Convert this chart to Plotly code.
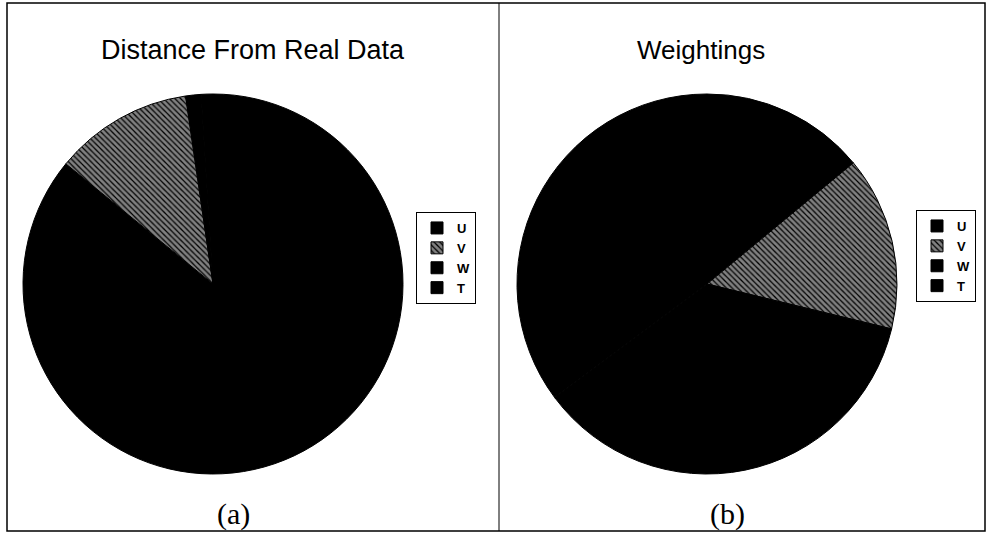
import plotly.graph_objects as go

labels = ["U", "V", "W", "T"]
dist_values = [85.9, 11.8, 1.3, 1.0]
weight_values = [14.0, 14.8, 36.0, 35.2]
titles = ["Distance From Real Data", "Weightings"]
captions = ["(a)", "(b)"]

W, H = 986, 535

def dom(cx, cy, r):
    return dict(x=[(cx - r) / W, (cx + r) / W], y=[1 - (cy + r) / H, 1 - (cy - r) / H])

marker = dict(
    colors=["black", "black", "black", "black"],
    line=dict(color="black", width=1),
    pattern=dict(shape=["", "\\", "", ""], fgcolor="white", bgcolor="black",
                 size=4, solidity=0.7, fillmode="overlay"),
)

fig = go.Figure()
fig.add_trace(go.Pie(labels=labels, values=dist_values, sort=False, direction="clockwise",
                     rotation=0, textinfo="none", hoverinfo="label+percent",
                     marker=marker, domain=dom(213, 284, 190),
                     legend="legend", legendgroup="a"))
fig.add_trace(go.Pie(labels=labels, values=weight_values, sort=False, direction="clockwise",
                     rotation=0, textinfo="none", hoverinfo="label+percent",
                     marker=marker, domain=dom(707, 284, 190),
                     legend="legend2", legendgroup="b"))

legend_style = dict(bgcolor="white", bordercolor="black", borderwidth=1,
                    font=dict(family="Liberation Sans, Arial", size=13, color="black", weight="bold"),
                    xanchor="right", yanchor="top", itemwidth=30, tracegroupgap=0)

fig.update_layout(
    width=W, height=H,
    margin=dict(l=0, r=0, t=0, b=0),
    paper_bgcolor="white", plot_bgcolor="white",
    legend=dict(x=476 / W, y=1 - 212 / H, **legend_style),
    legend2=dict(x=976 / W, y=1 - 210 / H, **legend_style),
    shapes=[
        dict(type="rect", xref="paper", yref="paper", x0=7 / W, x1=985 / W,
             y0=1 - 531 / H, y1=1 - 3 / H, line=dict(color="black", width=1.5)),
        dict(type="line", xref="paper", yref="paper", x0=499 / W, x1=499 / W,
             y0=1 - 531 / H, y1=1 - 3 / H, line=dict(color="black", width=1)),
    ],
    annotations=[
        dict(text=titles[0], x=253 / W, y=1 - 50 / H, xref="paper", yref="paper",
             xanchor="center", yanchor="middle", showarrow=False,
             font=dict(family="Liberation Sans, Arial", size=27, color="black")),
        dict(text=titles[1], x=701 / W, y=1 - 50 / H, xref="paper", yref="paper",
             xanchor="center", yanchor="middle", showarrow=False,
             font=dict(family="Liberation Sans, Arial", size=26, color="black")),
        dict(text=captions[0], x=233 / W, y=1 - 514 / H, xref="paper", yref="paper",
             xanchor="center", yanchor="middle", showarrow=False,
             font=dict(family="Liberation Serif, serif", size=30, color="black")),
        dict(text=captions[1], x=727 / W, y=1 - 514 / H, xref="paper", yref="paper",
             xanchor="center", yanchor="middle", showarrow=False,
             font=dict(family="Liberation Serif, serif", size=30, color="black")),
    ],
)

fig.write_html("out.html", config={"displayModeBar": False},
               post_script="document.body.style.margin='0';")
